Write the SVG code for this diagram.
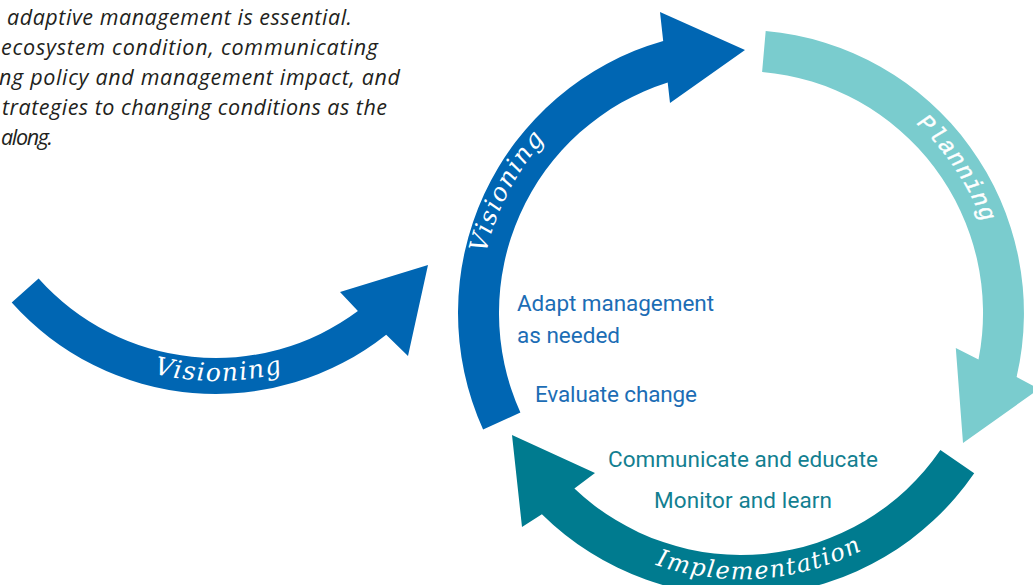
<svg xmlns="http://www.w3.org/2000/svg" xmlns:xlink="http://www.w3.org/1999/xlink" width="1033" height="585" viewBox="0 0 1033 585">
  <style>
    .intro { font-family: "Open Sans", "Liberation Sans", sans-serif; font-style: italic; font-size: 21.5px; fill: #231f20; }
    .step { font-family: Roboto, "Liberation Sans", sans-serif; font-size: 22.5px; }
    .blue-t { fill: #1c6db5; }
    .teal-t { fill: #137f91; }
    .lbl { font-family: "DejaVu Serif", "Liberation Serif", serif; font-style: italic; font-size: 25px; letter-spacing: 1.5px; fill: #ffffff; }
    .lbl-impl { font-size: 24px; }
    .lbl-plan { font-family: "Liberation Mono", "DejaVu Sans Mono", monospace; font-style: italic; font-size: 23.5px; letter-spacing: 1px; fill: #ffffff; stroke: #ffffff; stroke-width: 0.4px; }
    .blue { fill: #0066b3; }
    .light { fill: #7accce; }
    .dark { fill: #007b8f; }
  </style>
  <defs>
    <path id="p-lead" d="M 48.2 319.9 A 261 261 0 0 0 383.8 319.9"/>
    <path id="p-vis" d="M 485.2 369.7 A 262 262 0 0 1 640.7 70.9"/>
    <path id="p-plan" d="M 813 65.2 A 258 258 0 0 1 997.5 340.9"/>
    <path id="p-impl" d="M 586 529 A 266 266 0 0 0 926.7 504"/>
  </defs>
  <rect width="1033" height="585" fill="#ffffff"/>

  <g id="intro-text" class="intro">
    <text x="7" y="25" textLength="345" lengthAdjust="spacing">adaptive management is essential.</text>
    <text x="1" y="55" textLength="377" lengthAdjust="spacing">ecosystem condition, communicating</text>
    <text x="-1" y="85" textLength="401" lengthAdjust="spacing">ng policy and management impact, and</text>
    <text x="2" y="115" textLength="385" lengthAdjust="spacing">trategies to changing conditions as the</text>
    <text x="1" y="145" textLength="52" lengthAdjust="spacing">along.</text>
  </g>

  <g id="connectors">
    <g id="arrow-lead-visioning">
      <path class="blue" d="M 38.6 278.6 A 238 238 0 0 0 357.9 311.1 L 340 292 L 428 265 L 408 356 L 386.2 334.7 A 274 274 0 0 1 11.7 302.6 Z"/>
      <text class="lbl"><textPath xlink:href="#p-lead" href="#p-lead" startOffset="50.8%" text-anchor="middle">Visioning</textPath></text>
    </g>
    <g id="arrow-visioning">
      <path class="blue" d="M 483.1 429.5 A 283 283 0 0 1 663.2 40.9 L 660 12 L 745 50 L 670 103 L 667.7 82.4 A 242 242 0 0 0 520.4 412.6 Z"/>
      <text class="lbl"><textPath xlink:href="#p-vis" href="#p-vis" startOffset="50%" text-anchor="middle">Visioning</textPath></text>
    </g>
    <g id="arrow-planning">
      <path class="light" d="M 765.7 31.1 A 283 283 0 0 1 1016.6 377.1 L 1039 389 L 963 443 L 955.8 348 L 978.5 359.6 A 242 242 0 0 0 762.1 71.9 Z"/>
      <text class="lbl-plan"><textPath xlink:href="#p-plan" href="#p-plan" startOffset="50%" text-anchor="middle">Planning</textPath></text>
    </g>
    <g id="arrow-implementation">
      <path class="dark" d="M 940.4 450.1 A 242 242 0 0 1 574.4 488.5 L 595 473 L 512 435 L 522 527 L 541.9 514.2 A 283 283 0 0 0 974.2 473.3 Z"/>
      <text class="lbl lbl-impl"><textPath xlink:href="#p-impl" href="#p-impl" startOffset="50%" text-anchor="middle">Implementation</textPath></text>
    </g>
  </g>

  <g id="node-adapt" class="step blue-t">
    <text x="517" y="311" textLength="197" lengthAdjust="spacing">Adapt management</text>
    <text x="517" y="343" textLength="103" lengthAdjust="spacing">as needed</text>
  </g>
  <g id="node-evaluate" class="step blue-t">
    <text x="535" y="402" textLength="162" lengthAdjust="spacing">Evaluate change</text>
  </g>
  <g id="node-communicate" class="step teal-t">
    <text x="608" y="467" textLength="270" lengthAdjust="spacing">Communicate and educate</text>
  </g>
  <g id="node-monitor" class="step teal-t">
    <text x="654" y="508" textLength="178" lengthAdjust="spacing">Monitor and learn</text>
  </g>
</svg>
